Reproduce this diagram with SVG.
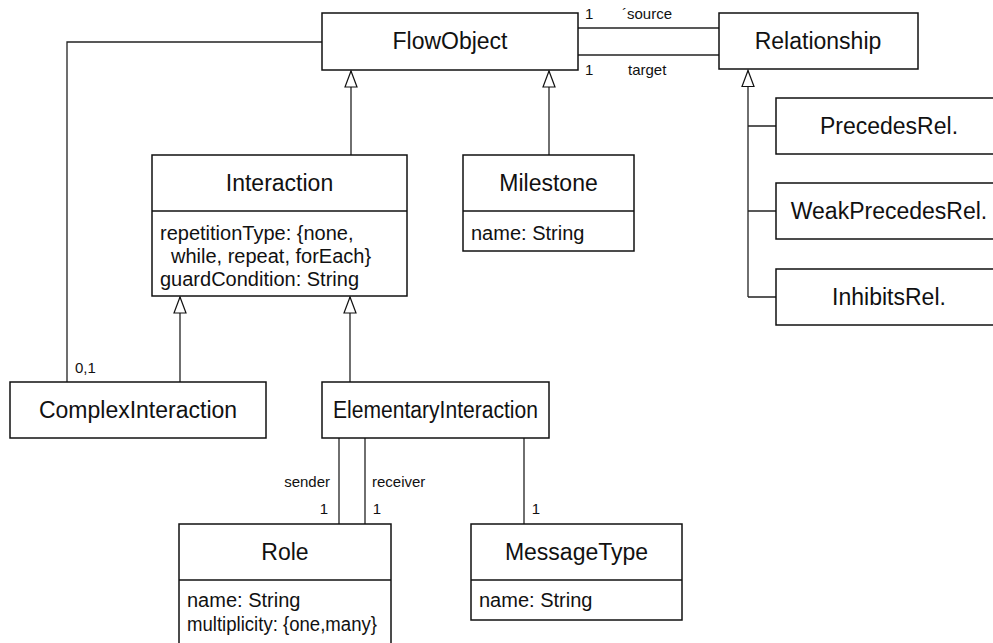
<svg xmlns="http://www.w3.org/2000/svg" width="993" height="643" viewBox="0 0 993 643">
<style>
.box{fill:#fff;stroke:#111;stroke-width:1.5}
.ln{fill:none;stroke:#222;stroke-width:1.3}
.t{font-family:"Liberation Sans",Arial,sans-serif;font-size:23px;fill:#111;text-anchor:middle}
.a{font-family:"Liberation Sans",Arial,sans-serif;font-size:20px;fill:#111}
.s{font-family:"Liberation Sans",Arial,sans-serif;font-size:15px;fill:#111}
</style>
<defs>
<marker id="gen" markerUnits="userSpaceOnUse" markerWidth="20" markerHeight="16" refX="17" refY="7" orient="auto" viewBox="0 0 20 16">
<path d="M1,1 L17,7 L1,13 Z" fill="#fff" stroke="#111" stroke-width="1.2"/>
</marker>
</defs>
<rect width="993" height="643" fill="#fff"/>
<g id="connectors">
<path class="ln" d="M322,42 H67 V382"/>
<path class="ln" d="M578,28 H719"/>
<path class="ln" d="M578,55 H719"/>
<path class="ln" d="M351,155 V71" marker-end="url(#gen)"/>
<path class="ln" d="M549,155 V71" marker-end="url(#gen)"/>
<path class="ln" d="M748,297 V70.5" marker-end="url(#gen)"/>
<path class="ln" d="M748,126 H776 M748,211 H776 M748,297 H776"/>
<path class="ln" d="M180,382 V297" marker-end="url(#gen)"/>
<path class="ln" d="M350,382 V297" marker-end="url(#gen)"/>
<path class="ln" d="M339,438 V524"/>
<path class="ln" d="M365,438 V524"/>
<path class="ln" d="M524,438 V524"/>
<text class="s" x="585" y="19">1</text>
<text class="s" x="622" y="19">´source</text>
<text class="s" x="585" y="75">1</text>
<text class="s" x="628" y="75">target</text>
<text class="s" x="75" y="373">0,1</text>
<text class="s" x="330" y="487" text-anchor="end">sender</text>
<text class="s" x="372" y="487">receiver</text>
<text class="s" x="324" y="514" text-anchor="middle">1</text>
<text class="s" x="377" y="514" text-anchor="middle">1</text>
<text class="s" x="536" y="514" text-anchor="middle">1</text>
</g>
<g id="FlowObject">
<rect class="box" x="322" y="13" width="256" height="57"/>
<text class="t" x="450" y="49">FlowObject</text>
</g>
<g id="Relationship">
<rect class="box" x="719" y="13" width="199" height="56"/>
<text class="t" x="818" y="49">Relationship</text>
</g>
<g id="PrecedesRel">
<rect class="box" x="776" y="98" width="226" height="56"/>
<text class="t" x="889" y="134">PrecedesRel.</text>
</g>
<g id="WeakPrecedesRel">
<rect class="box" x="776" y="183" width="226" height="56"/>
<text class="t" x="889" y="219">WeakPrecedesRel.</text>
</g>
<g id="InhibitsRel">
<rect class="box" x="776" y="269" width="226" height="56"/>
<text class="t" x="889" y="305">InhibitsRel.</text>
</g>
<g id="Interaction">
<rect class="box" x="152" y="155" width="255" height="141"/>
<line class="box" x1="152" y1="211" x2="407" y2="211"/>
<text class="t" x="279.5" y="191">Interaction</text>
<text class="a" x="160" y="240">repetitionType: {none,</text>
<text class="a" x="171" y="263">while, repeat, forEach}</text>
<text class="a" x="160" y="286">guardCondition: String</text>
</g>
<g id="Milestone">
<rect class="box" x="463" y="155" width="171" height="96"/>
<line class="box" x1="463" y1="211" x2="634" y2="211"/>
<text class="t" x="548.5" y="191">Milestone</text>
<text class="a" x="471" y="240">name: String</text>
</g>
<g id="ComplexInteraction">
<rect class="box" x="10" y="382" width="256" height="56"/>
<text class="t" x="138" y="418">ComplexInteraction</text>
</g>
<g id="ElementaryInteraction">
<rect class="box" x="322" y="382" width="227" height="56"/>
<text class="t" x="435.5" y="418" textLength="205" lengthAdjust="spacingAndGlyphs">ElementaryInteraction</text>
</g>
<g id="Role">
<rect class="box" x="179" y="524" width="212" height="130"/>
<line class="box" x1="179" y1="580" x2="391" y2="580"/>
<text class="t" x="285" y="560">Role</text>
<text class="a" x="187" y="607">name: String</text>
<text class="a" x="187" y="631" textLength="190" lengthAdjust="spacingAndGlyphs">multiplicity: {one,many}</text>
</g>
<g id="MessageType">
<rect class="box" x="471" y="524" width="211" height="96"/>
<line class="box" x1="471" y1="580" x2="682" y2="580"/>
<text class="t" x="576.5" y="560">MessageType</text>
<text class="a" x="479" y="607">name: String</text>
</g>
</svg>
